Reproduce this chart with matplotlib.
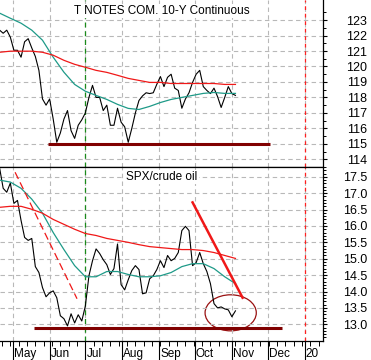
import numpy as np
import pandas as pd
import matplotlib
matplotlib.use("Agg")
import matplotlib.pyplot as plt
import matplotlib.dates as mdates
from matplotlib.patches import Ellipse
from matplotlib.ticker import FixedLocator, FuncFormatter
from matplotlib.transforms import ScaledTranslation

plt.rcParams['font.family'] = ['Liberation Sans', 'DejaVu Sans']

START = "2019-04-20"

# 10-year T-note futures, sampled every 3 days
tnotes = [122.35, 122.15, 122.35, 121.9, 121.05, 121.05, 120.6, 121.6, 121.8, 121.2,
          120.65, 119.75, 117.9, 117.5, 117.9, 116.6, 115.1, 115.7, 116.6, 117.15,
          115.85, 115.35, 116.2, 116.55, 117.0, 118.0, 118.78, 118.0, 118.0, 117.15,
          117.5, 116.2, 116.2, 117.3, 116.4, 116.1, 115.1, 116.0, 117.0, 117.8,
          118.1, 118.3, 118.25, 118.3, 118.85, 119.35, 118.7, 119.3, 119.5, 118.6,
          118.45, 117.3, 117.9, 118.3, 118.97, 119.5, 119.75, 118.7, 118.45, 118.25,
          118.6, 118.05, 117.35, 118.0, 118.7, 118.25, 118.13]
# moving averages, sampled every 9 days
tnotes_ma50 = [123.45, 123.12, 122.8, 122.35, 121.7, 120.6, 119.63, 118.84, 118.4, 118.13,
               117.87, 117.55, 117.29, 117.22, 117.42, 117.67, 117.87, 118.0, 118.13, 118.26,
               118.32, 118.26, 118.26]
tnotes_ma200 = [120.92, 120.99, 120.99, 120.99, 120.92, 120.73, 120.4, 120.14, 119.95, 119.75,
                119.62, 119.43, 119.23, 119.1, 118.97, 118.97, 118.9, 118.9, 118.9, 118.9,
                118.9, 118.84, 118.84]

# SPX / crude oil ratio, sampled every 3 days
spx_oil = [17.77, 17.15, 17.03, 17.31, 16.69, 16.78, 16.17, 15.65, 15.56, 15.62,
           14.76, 14.58, 14.12, 13.84, 13.96, 14.02, 13.81, 13.26, 13.17, 12.95,
           13.32, 13.04, 13.29, 13.10, 13.56, 14.48, 14.94, 15.3, 15.16, 14.97,
           14.82, 14.52, 14.70, 15.45, 14.21, 14.05, 14.36, 14.64, 14.79, 14.67,
           13.93, 13.96, 14.39, 14.48, 14.67, 14.94, 14.73, 15.10, 14.94, 15.01,
           15.19, 15.86, 15.99, 15.86, 14.79, 14.88, 15.19, 14.85, 14.61, 14.24,
           13.63, 13.50, 13.53, 13.47, 13.44, 13.23, 13.41]
spx_oil_ma50 = [17.40, 17.34, 17.15, 16.82, 16.39, 15.80, 15.28, 14.79, 14.45, 14.45,
                14.61, 14.61, 14.52, 14.45, 14.45, 14.48, 14.58, 14.76, 14.85, 14.85,
                14.70, 14.45, 14.24]
spx_oil_ma200 = [16.57, 16.60, 16.60, 16.51, 16.39, 16.20, 16.05, 15.90, 15.77, 15.71,
                 15.62, 15.56, 15.50, 15.43, 15.37, 15.34, 15.31, 15.28, 15.28, 15.25,
                 15.19, 15.10, 15.01]

# hand-drawn annotations
tn_support = 115.0
tn_support_span = ["2019-05-31", "2019-12-03"]
so_support = 12.90
so_support_span = ["2019-05-19", "2019-12-13"]
so_dashed_trend = (["2019-05-03", "2019-06-24"], [17.64, 13.78])
so_solid_trend = (["2019-09-29", "2019-11-10"], [16.72, 13.81])
so_circle = ("2019-10-31", 13.35, 43, 1.10)   # centre date, centre value, width days, height
july_line = "2019-07-01"
year_line = "2020-01-01"

tn_ticks = list(range(114, 124))
so_ticks = [13.0, 13.5, 14.0, 14.5, 15.0, 15.5, 16.0, 16.5, 17.0, 17.5]

price_dates = pd.date_range(START, periods=len(tnotes), freq="3D")
ma_dates = pd.date_range(START, periods=len(tnotes_ma50), freq="9D")

TEAL = "#1e9a88"
RED = "#f01818"
MAROON = "#800000"
GRID = "#b8b8b8"

fig = plt.figure(figsize=(3.71, 3.60), dpi=100)
ax1 = fig.add_axes([0, 0.5361, 0.8706, 0.4639])
ax2 = fig.add_axes([0, 0.0528, 0.8706, 0.4833], sharex=ax1)

xmin, xmax = pd.Timestamp("2019-04-20 08:00"), pd.Timestamp("2020-01-16 12:00")

for ax in (ax1, ax2):
    ax.set_xlim(xmin, xmax)
    ax.spines['left'].set_visible(False)
    ax.xaxis.set_major_locator(mdates.MonthLocator())
    ax.xaxis.set_minor_locator(mdates.WeekdayLocator(byweekday=mdates.MO))
    ax.grid(True, which='major', axis='both', color=GRID, linestyle=(0, (4, 3)), lw=0.8)
    ax.axvline(pd.Timestamp(july_line), color="#1a8a1a", linestyle=(0, (4, 3)), lw=0.9)
    ax.axvline(pd.Timestamp(year_line), color="#ff2020", linestyle=(0, (3, 3)), lw=0.9)
    ax.yaxis.tick_right()
    ax.tick_params(axis='y', which='major', direction='out', length=3, width=0.8,
                   labelsize=9, pad=29)
    ax.tick_params(axis='y', which='minor', direction='out', length=1.8, width=0.7)
    for s in ax.spines.values():
        s.set_linewidth(0.9)
        s.set_zorder(5)

label_box = dict(facecolor='white', edgecolor='none', pad=1.0)

# top panel
ax1.spines['top'].set_visible(False)
ax1.plot(price_dates, tnotes, color="black", lw=0.8)
ax1.plot(ma_dates, tnotes_ma50, color=TEAL, lw=0.9)
ax1.plot(ma_dates, tnotes_ma200, color=RED, lw=0.9)
ax1.hlines(tn_support, pd.Timestamp(tn_support_span[0]), pd.Timestamp(tn_support_span[1]),
           color=MAROON, lw=2.2)
ax1.set_ylim(113.5, 124.3)
ax1.yaxis.set_major_locator(FixedLocator(tn_ticks))
ax1.yaxis.set_minor_locator(FixedLocator([t + 0.5 for t in tn_ticks]))
ax1.yaxis.set_major_formatter(FuncFormatter(lambda v, p: f"{v:.0f}"))
ax1.tick_params(axis='x', which='both', length=0, labelbottom=False)
ax1.text(0.5, 0.934, "T NOTES COM. 10-Y Continuous", transform=ax1.transAxes,
         ha='center', va='center', fontsize=8.5, bbox=label_box, zorder=4)

# bottom panel
ax2.plot(price_dates, spx_oil, color="black", lw=0.8)
ax2.plot(ma_dates, spx_oil_ma50, color=TEAL, lw=0.9)
ax2.plot(ma_dates, spx_oil_ma200, color=RED, lw=0.9)
ax2.hlines(so_support, pd.Timestamp(so_support_span[0]), pd.Timestamp(so_support_span[1]),
           color=MAROON, lw=2.2)
ax2.plot(pd.to_datetime(so_dashed_trend[0]), so_dashed_trend[1], color=RED, lw=0.9,
         linestyle=(0, (6, 3)))
ax2.plot(pd.to_datetime(so_solid_trend[0]), so_solid_trend[1], color=RED, lw=1.8)
cx = mdates.date2num(pd.Timestamp(so_circle[0]))
ax2.add_patch(Ellipse((cx, so_circle[1]), so_circle[2], so_circle[3], fill=False,
                      edgecolor="#991111", lw=0.9))
ax2.set_ylim(12.49, 17.8)
ax2.yaxis.set_major_locator(FixedLocator(so_ticks))
ax2.yaxis.set_minor_locator(FixedLocator(np.round(np.arange(12.6, 17.8, 0.1), 1)))
ax2.yaxis.set_major_formatter(FuncFormatter(lambda v, p: f"{v:.1f}"))
ax2.text(0.5, 0.943, "SPX/crude oil", transform=ax2.transAxes,
         ha='center', va='center', fontsize=8.5, bbox=label_box, zorder=4)


def month_fmt(x, pos):
    d = mdates.num2date(x)
    return d.strftime("%y") if d.month == 1 else d.strftime("%b")


ax2.xaxis.set_major_formatter(FuncFormatter(month_fmt))
ax2.tick_params(axis='x', which='major', direction='out', length=13.7, width=0.8,
                labelsize=8.5, pad=-8.7)
ax2.tick_params(axis='x', which='minor', direction='out', length=3.5, width=0.7)
shift = ScaledTranslation(1 / 100, 0, fig.dpi_scale_trans)
for lab in ax2.get_xticklabels():
    lab.set_horizontalalignment('left')
    lab.set_transform(lab.get_transform() + shift)
for ax in (ax1, ax2):
    for lab in ax.get_yticklabels():
        lab.set_horizontalalignment('right')

fig.savefig("out.png", dpi=100)
